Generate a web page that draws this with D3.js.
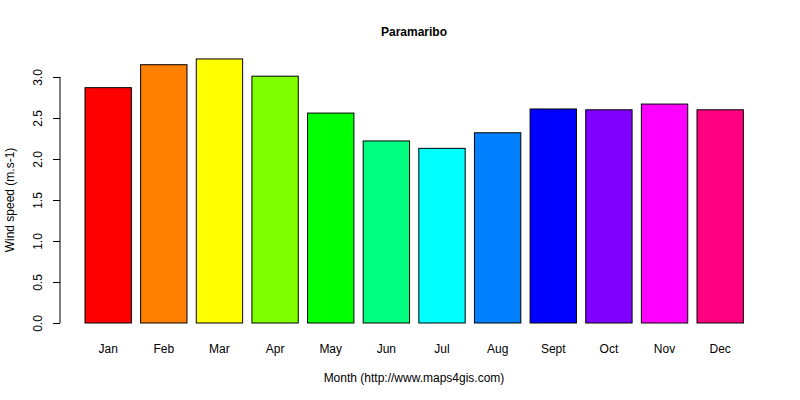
<!DOCTYPE html>
<html><head><meta charset="utf-8">
<script src="https://cdn.jsdelivr.net/npm/d3@7"></script>
<style>body{margin:0;background:#fff}text{font-family:"Liberation Sans",Arial,sans-serif;font-size:12px}</style>
</head><body><svg width="800" height="400"></svg>
<script>
const months=["Jan","Feb","Mar","Apr","May","Jun","Jul","Aug","Sept","Oct","Nov","Dec"];
const values=[2.87,3.15,3.22,3.01,2.56,2.22,2.13,2.32,2.61,2.60,2.67,2.60];
const colors=["#FF0000","#FF8000","#FFFF00","#80FF00","#00FF00","#00FF80","#00FFFF","#0080FF","#0000FF","#8000FF","#FF00FF","#FF0080"];
const yTicks=[0,0.5,1,1.5,2,2.5,3];
const svg=d3.select("svg");
const x=d3.scaleBand().domain(months).range([80.36,748]).paddingInner(1/6).paddingOuter(1/12);
const y=d3.scaleLinear().domain([0,3]).range([323,77]);
svg.selectAll("rect").data(months).join("rect")
 .attr("x",d=>x(d)).attr("width",x.bandwidth())
 .attr("y",(d,i)=>y(values[i])).attr("height",(d,i)=>y(0)-y(values[i]))
 .attr("fill",(d,i)=>colors[i]).attr("stroke","#000").attr("stroke-width",1);
const ya=svg.append("g").attr("transform","translate(60,0)")
 .call(d3.axisLeft(y).tickValues(yTicks).tickFormat(d3.format(".1f")).tickSize(7).tickPadding(4));
ya.select(".domain").attr("d","M0,"+y(0)+"V"+y(3));
ya.selectAll(".tick text")
 .attr("x",null).attr("y",0).attr("dy","0.35em").attr("text-anchor","middle")
 .attr("transform","translate(-22,0) rotate(-90)")
 .style("font-size","12px").style("font-family","Liberation Sans, Arial");
svg.append("g").selectAll("text").data(months).join("text")
 .attr("x",d=>x(d)+x.bandwidth()/2).attr("y",353).attr("text-anchor","middle").text(d=>d);
svg.append("text").attr("x",414).attr("y",36).attr("text-anchor","middle").attr("font-weight","bold").text("Paramaribo");
svg.append("text").attr("x",414).attr("y",382).attr("text-anchor","middle").text("Month (http://www.maps4gis.com)");
svg.append("text").attr("transform","translate(14,200) rotate(-90)").attr("text-anchor","middle").text("Wind speed (m.s-1)");
</script></body></html>
